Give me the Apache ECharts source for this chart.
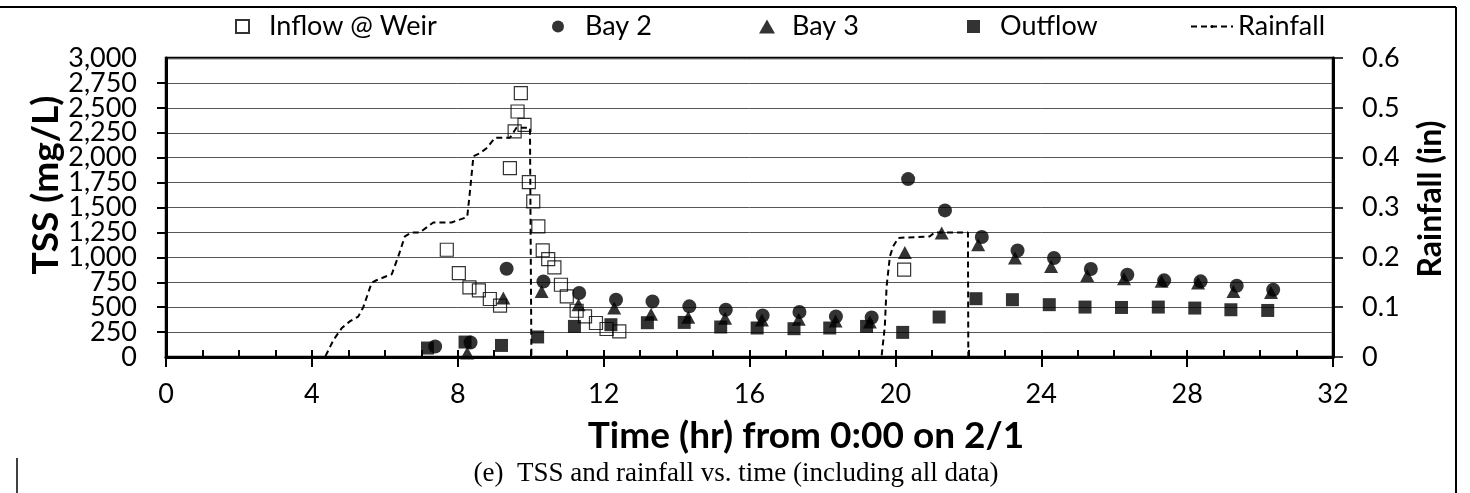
<!DOCTYPE html>
<html>
<head>
<meta charset="utf-8">
<title>TSS and rainfall vs. time</title>
<script src="https://cdn.jsdelivr.net/npm/echarts@6/dist/echarts.min.js"></script>
<style>
  html, body { margin: 0; padding: 0; background: #fff; }
  #chart { width: 1470px; height: 493px; }
</style>
</head>
<body>
<div id="chart"></div>
<script>
// Time axis (hours from 0:00 on 2/1)
const timeTicks = [0, 4, 8, 12, 16, 20, 24, 28, 32];
// TSS axis (mg/L) and rainfall axis (in)
const tssTicks = [0, 250, 500, 750, 1000, 1250, 1500, 1750, 2000, 2250, 2500, 2750, 3000];
const rainTicks = [0, 0.1, 0.2, 0.3, 0.4, 0.5, 0.6];

// [hour, TSS mg/L]
const inflowWeir = [
  [7.70, 1076], [8.03, 842], [8.32, 698], [8.58, 668], [8.88, 582], [9.16, 515],
  [9.43, 1896], [9.56, 2263], [9.64, 2463], [9.73, 2648], [9.83, 2330], [9.95, 1755],
  [10.07, 1561], [10.21, 1310], [10.33, 1069], [10.48, 983], [10.65, 899], [10.83, 725],
  [10.99, 608], [11.26, 464], [11.49, 407], [11.79, 341], [12.08, 281], [12.43, 257],
  [20.24, 876]
];
const bay2 = [
  [7.38, 106], [8.35, 146], [9.34, 886], [10.35, 758], [11.33, 642], [12.34, 575],
  [13.34, 558], [14.35, 508], [15.35, 474], [16.36, 417], [17.37, 451], [18.37, 407],
  [19.35, 397], [20.35, 1785], [21.36, 1471], [22.37, 1204], [23.35, 1069], [24.35, 993],
  [25.36, 883], [26.36, 825], [27.37, 769], [28.37, 759], [29.36, 715], [30.36, 675]
];
const bay3 = [
  [8.26, 40], [9.25, 592], [10.30, 658], [11.31, 525], [12.29, 491], [13.30, 430],
  [14.32, 400], [15.33, 390], [16.34, 370], [17.35, 380], [18.36, 360], [19.30, 350],
  [20.26, 1049], [21.27, 1244], [22.27, 1126], [23.28, 993], [24.27, 909], [25.26, 818],
  [26.27, 785], [27.30, 759], [28.30, 742], [29.27, 658], [30.30, 648]
];
const outflow = [
  [7.17, 90], [8.20, 150], [9.20, 116], [10.19, 201], [11.20, 307], [12.20, 324],
  [13.20, 344], [14.21, 347], [15.21, 301], [16.21, 291], [17.22, 284], [18.20, 291],
  [19.21, 307], [20.20, 247], [21.20, 401], [22.21, 585], [23.21, 575], [24.22, 525],
  [25.20, 501], [26.20, 497], [27.21, 501], [28.21, 491], [29.20, 474], [30.21, 467]
];
// [hour, cumulative rainfall in]
const rainfall = [
  [0, 0], [4.36, 0], [4.60, 0.035], [4.82, 0.058], [5.05, 0.072], [5.27, 0.081],
  [5.41, 0.100], [5.64, 0.149], [5.77, 0.154], [6.04, 0.162], [6.19, 0.166],
  [6.37, 0.202], [6.55, 0.242], [6.74, 0.250], [6.96, 0.250], [7.33, 0.270],
  [7.83, 0.270], [8.26, 0.281], [8.33, 0.329], [8.43, 0.403], [8.61, 0.409],
  [8.79, 0.419], [9.02, 0.440], [9.43, 0.440], [9.61, 0.460], [9.98, 0.460],
  [10.02, 0], [19.62, 0], [19.71, 0.061], [19.76, 0.142], [19.85, 0.202],
  [19.94, 0.222], [20.08, 0.239], [20.94, 0.242], [21.08, 0.250], [21.99, 0.250],
  [22.00, 0], [30.5, 0]
];

const FONT = 'Lato, "Open Sans", sans-serif';
const BLACK = '#000';
const TSS_MIN = tssTicks[0];
const TSS_MAX = tssTicks[tssTicks.length - 1];

const chart = echarts.init(document.getElementById('chart'), null, { renderer: 'canvas' });

function legendAt(name, left, iconW, iconH, gap) {
  return {
    data: [name],
    left: left,
    top: 13,
    padding: 0,
    itemWidth: iconW,
    itemHeight: iconH,
    selectedMode: false,
    textStyle: { fontFamily: FONT, fontSize: 27, color: BLACK, padding: [0, 0, 0, gap] }
  };
}

const tssLabel = {
  fontFamily: FONT, fontSize: 27, color: BLACK, margin: 29, hideOverlap: false,
  formatter: v => v.toLocaleString('en-US')
};

const option = {
  animation: false,
  backgroundColor: '#fff',
  legend: [
    legendAt('Inflow @ Weir', 235, 13, 13, 15),
    legendAt('Bay 2', 552, 12, 12, 16),
    legendAt('Bay 3', 759, 16, 14, 12),
    legendAt('Outflow', 967, 13, 13, 15),
    legendAt('Rainfall', 1190, 42, 4, 0)
  ],
  grid: {
    left: 166, top: 58, width: 1167, height: 299,
    show: true, borderColor: BLACK, borderWidth: 2.5, backgroundColor: 'transparent'
  },
  xAxis: [
    {
      type: 'value',
      min: timeTicks[0], max: timeTicks[timeTicks.length - 1], interval: timeTicks[1] - timeTicks[0],
      position: 'bottom',
      axisLine: { show: true, onZero: false, lineStyle: { color: BLACK, width: 3 } },
      axisTick: { show: true, inside: false, length: 10, lineStyle: { color: BLACK, width: 2 } },
      axisLabel: {
        fontFamily: FONT, fontSize: 27, color: BLACK, margin: 24,
        showMinLabel: true, showMaxLabel: true, hideOverlap: false
      },
      splitLine: { show: false }
    },
    {
      // hourly tick marks pointing into the plot
      type: 'value',
      min: timeTicks[0], max: timeTicks[timeTicks.length - 1], interval: 1,
      position: 'bottom',
      axisLine: { show: false, onZero: false },
      axisTick: { show: true, inside: true, length: 7, lineStyle: { color: BLACK, width: 2 } },
      axisLabel: { show: false },
      splitLine: { show: false }
    }
  ],
  yAxis: [
    {
      // TSS axis: inner labels, ticks and gridlines
      type: 'value',
      min: TSS_MIN, max: TSS_MAX, interval: tssTicks[1] - tssTicks[0],
      position: 'left',
      axisLine: { show: true, onZero: false, lineStyle: { color: BLACK, width: 3 } },
      axisTick: { show: true, inside: false, length: 9, lineStyle: { color: BLACK, width: 2 } },
      axisLabel: Object.assign({ showMinLabel: false, showMaxLabel: false }, tssLabel),
      splitLine: { show: true, lineStyle: { color: '#555', width: 1 } }
    },
    {
      type: 'value',
      min: rainTicks[0], max: rainTicks[rainTicks.length - 1], interval: rainTicks[1] - rainTicks[0],
      position: 'right',
      axisLine: { show: true, onZero: false, lineStyle: { color: BLACK, width: 3 } },
      axisTick: { show: true, inside: false, length: 10, lineStyle: { color: BLACK, width: 1.5 } },
      axisLabel: {
        fontFamily: FONT, fontSize: 27, color: BLACK, margin: 29,
        showMinLabel: true, showMaxLabel: true, hideOverlap: false,
        formatter: v => (v === 0 ? '0' : v.toFixed(1))
      },
      splitLine: { show: false }
    },
    {
      // TSS axis: end labels (0 and 3,000)
      type: 'value',
      min: TSS_MIN, max: TSS_MAX, interval: TSS_MAX - TSS_MIN,
      position: 'left',
      axisLine: { show: false, onZero: false },
      axisTick: { show: false },
      axisLabel: Object.assign({ showMinLabel: true, showMaxLabel: true }, tssLabel),
      splitLine: { show: false }
    }
  ],
  series: [
    {
      name: 'Inflow @ Weir', type: 'scatter', data: inflowWeir,
      symbol: 'rect', symbolSize: 13, z: 2,
      itemStyle: { color: 'rgba(255,255,255,0)', borderColor: BLACK, borderWidth: 1.2 }
    },
    {
      name: 'Bay 2', type: 'scatter', data: bay2,
      symbol: 'circle', symbolSize: 14, z: 3,
      itemStyle: { color: BLACK }
    },
    {
      name: 'Bay 3', type: 'scatter', data: bay3,
      symbol: 'triangle', symbolSize: [14, 13], z: 4,
      itemStyle: { color: BLACK }
    },
    {
      name: 'Outflow', type: 'scatter', data: outflow,
      symbol: 'rect', symbolSize: 13, z: 5,
      itemStyle: { color: BLACK }
    },
    {
      name: 'Rainfall', type: 'line', data: rainfall, yAxisIndex: 1,
      symbol: 'none', z: 6,
      lineStyle: { color: BLACK, width: 2, type: [6, 4] },
      itemStyle: { color: BLACK }
    }
  ],
  graphic: [
    // axis titles
    {
      type: 'text', x: 46, y: 185, rotation: Math.PI / 2,
      style: { text: 'TSS (mg/L)', font: 'bold 37px ' + FONT, fill: BLACK, align: 'center', verticalAlign: 'middle' }
    },
    {
      type: 'text', x: 1431, y: 199, rotation: Math.PI / 2,
      style: { text: 'Rainfall (in)', font: 'bold 32px ' + FONT, fill: BLACK, align: 'center', verticalAlign: 'middle' }
    },
    {
      type: 'text', x: 806, y: 436,
      style: { text: 'Time (hr) from 0:00 on 2/1', font: 'bold 37px ' + FONT, fill: BLACK, align: 'center', verticalAlign: 'middle' }
    },
    // figure caption
    {
      type: 'text', x: 736, y: 474,
      style: { text: '(e)  TSS and rainfall vs. time (including all data)', font: '27px "Liberation Serif", "DejaVu Serif", serif', fill: BLACK, align: 'center', verticalAlign: 'middle' }
    },
    // figure frame
    { type: 'line', shape: { x1: 0, y1: 7, x2: 1456, y2: 7 }, style: { stroke: BLACK, lineWidth: 2 } },
    { type: 'line', shape: { x1: 1456, y1: 7, x2: 1456, y2: 493 }, style: { stroke: BLACK, lineWidth: 2 } },
    { type: 'line', shape: { x1: 17, y1: 458, x2: 17, y2: 493 }, style: { stroke: BLACK, lineWidth: 1.5 } }
  ]
};

chart.setOption(option);
</script>
</body>
</html>
